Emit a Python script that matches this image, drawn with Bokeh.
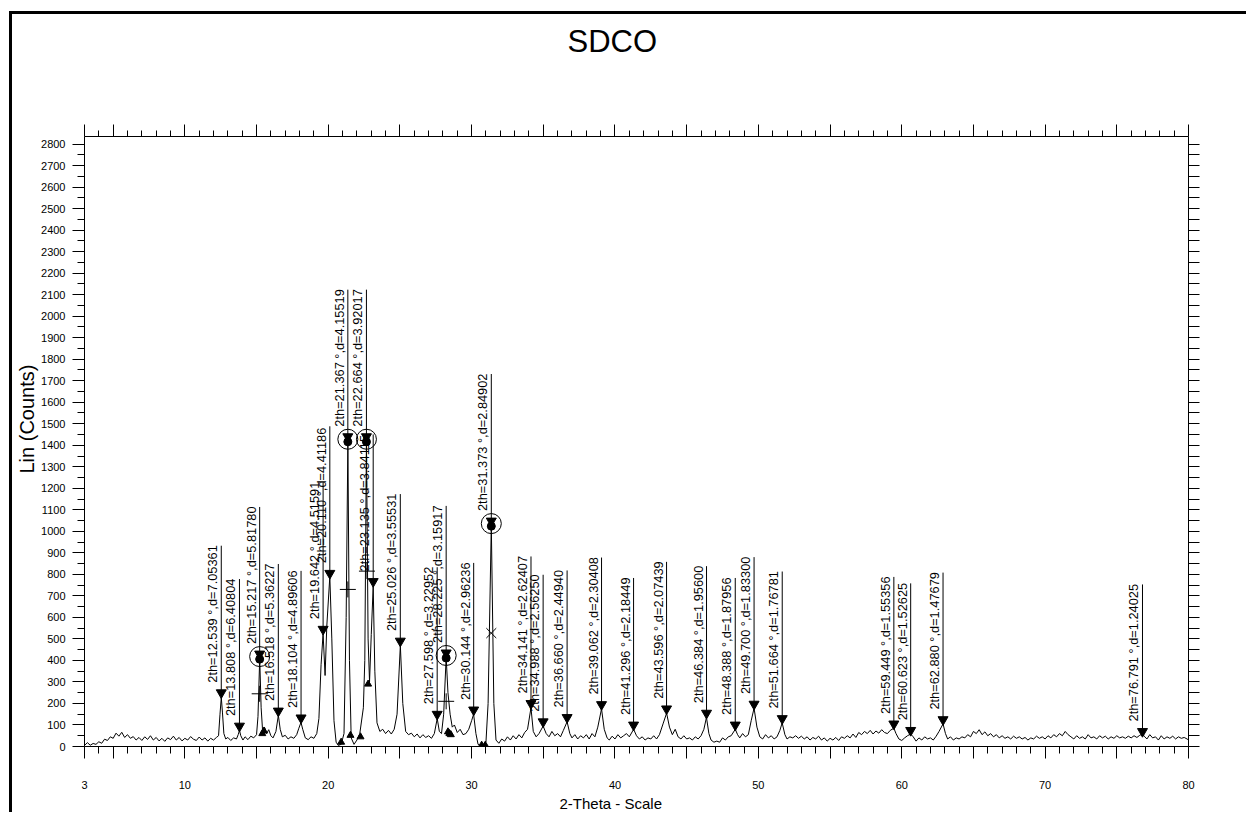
import math
from bokeh.plotting import figure
from bokeh.models import (Range1d, LinearAxis, FixedTicker, Title, ColumnDataSource)
from bokeh.core.properties import value
from bokeh.embed import file_html
from bokeh.resources import INLINE

FONT = "Liberation Sans"

# ---------------- data ----------------
scan = [
    (3.0, 5), (3.2, 18), (3.4, 6), (3.6, 14), (3.8, 10), (4.0, 22), (4.2, 15), (4.4, 34),
    (4.6, 28), (4.8, 45), (5.0, 38), (5.2, 62), (5.4, 48), (5.6, 66), (5.8, 42), (6.0, 55),
    (6.2, 38), (6.4, 46), (6.6, 30), (6.8, 42), (7.0, 28), (7.2, 45), (7.4, 33), (7.6, 50),
    (7.8, 30), (8.0, 42), (8.2, 26), (8.4, 38), (8.6, 24), (8.8, 40), (9.0, 32), (9.2, 48),
    (9.4, 30), (9.6, 42), (9.8, 26), (10.0, 38), (10.2, 30), (10.4, 46), (10.6, 34), (10.8, 28),
    (11.0, 44), (11.2, 30), (11.4, 40), (11.6, 25), (11.8, 38), (12.0, 30), (12.2, 42), (12.35, 50),
    (12.45, 150), (12.54, 228), (12.62, 160), (12.72, 60), (12.85, 35), (13.0, 42), (13.2, 28),
    (13.4, 40), (13.6, 35), (13.72, 55), (13.81, 75), (13.9, 50), (14.05, 30), (14.2, 45),
    (14.4, 32), (14.6, 48), (14.8, 40), (15.0, 55), (15.1, 140), (15.22, 410), (15.32, 180),
    (15.42, 75), (15.55, 90), (15.7, 60), (15.85, 78), (16.0, 50), (16.15, 40), (16.35, 70),
    (16.52, 145), (16.65, 80), (16.8, 45), (17.0, 52), (17.2, 35), (17.4, 45), (17.6, 38),
    (17.8, 55), (17.95, 85), (18.1, 112), (18.22, 80), (18.4, 40), (18.6, 32), (18.8, 45),
    (19.0, 38), (19.2, 60), (19.35, 130), (19.5, 380), (19.64, 525), (19.78, 330), (19.9, 560),
    (20.11, 790), (20.25, 500), (20.4, 120), (20.55, 20), (20.7, 5), (20.9, 10), (21.1, 60),
    (21.25, 600), (21.37, 1420), (21.48, 400), (21.6, 40), (21.8, 10), (22.0, 30), (22.2, 60),
    (22.45, 180), (22.55, 400), (22.664, 1420), (22.78, 500), (22.88, 300), (23.0, 520),
    (23.135, 745), (23.25, 350), (23.4, 110), (23.6, 70), (23.8, 80), (24.0, 60), (24.2, 75),
    (24.4, 58), (24.6, 80), (24.8, 150), (25.03, 470), (25.2, 200), (25.4, 70), (25.6, 55),
    (25.8, 62), (26.0, 45), (26.2, 58), (26.4, 40), (26.6, 55), (26.8, 42), (27.0, 50),
    (27.2, 38), (27.4, 60), (27.6, 130), (27.75, 70), (27.9, 60), (28.05, 150), (28.225, 415),
    (28.35, 250), (28.5, 150), (28.65, 90), (28.8, 100), (29.0, 65), (29.2, 80), (29.4, 55),
    (29.6, 60), (29.8, 80), (30.0, 120), (30.14, 150), (30.3, 60), (30.45, 10), (30.6, 5),
    (30.8, 8), (31.0, 20), (31.15, 200), (31.373, 1030), (31.55, 200), (31.7, 30), (31.9, 15),
    (32.1, 35), (32.3, 25), (32.5, 45), (32.7, 30), (32.9, 50), (33.1, 35), (33.3, 55),
    (33.5, 40), (33.7, 65), (33.9, 80), (34.14, 180), (34.3, 70), (34.5, 45), (34.7, 60),
    (34.99, 95), (35.2, 60), (35.4, 45), (35.6, 70), (35.8, 50), (36.0, 60), (36.2, 45),
    (36.4, 75), (36.66, 115), (36.85, 60), (37.0, 40), (37.2, 55), (37.4, 35), (37.6, 50),
    (37.8, 40), (38.0, 55), (38.2, 35), (38.4, 60), (38.6, 45), (38.8, 90), (39.06, 175),
    (39.25, 80), (39.45, 40), (39.6, 30), (39.8, 48), (40.0, 35), (40.2, 55), (40.4, 40),
    (40.6, 50), (40.8, 60), (41.0, 45), (41.3, 80), (41.5, 50), (41.7, 35), (41.9, 45),
    (42.1, 30), (42.3, 40), (42.5, 35), (42.7, 50), (42.9, 35), (43.1, 55), (43.35, 105),
    (43.6, 155), (43.8, 90), (44.0, 55), (44.2, 80), (44.4, 45), (44.6, 35), (44.8, 50),
    (45.0, 35), (45.2, 40), (45.4, 30), (45.6, 45), (45.8, 35), (46.0, 50), (46.2, 80),
    (46.38, 135), (46.55, 60), (46.7, 30), (46.9, 20), (47.1, 25), (47.3, 20), (47.5, 40),
    (47.7, 30), (47.9, 45), (48.1, 50), (48.39, 80), (48.55, 55), (48.7, 40), (48.9, 60),
    (49.1, 45), (49.3, 55), (49.5, 120), (49.7, 178), (49.9, 90), (50.1, 45), (50.3, 35),
    (50.5, 55), (50.7, 40), (50.9, 50), (51.1, 35), (51.3, 45), (51.5, 75), (51.66, 110),
    (51.85, 55), (52.0, 35), (52.2, 45), (52.4, 40), (52.6, 50), (52.8, 38), (53.0, 48),
    (53.2, 35), (53.4, 45), (53.6, 30), (53.8, 42), (54.0, 35), (54.2, 48), (54.4, 30),
    (54.6, 40), (54.8, 25), (55.0, 38), (55.2, 30), (55.4, 42), (55.6, 28), (55.8, 45),
    (56.0, 38), (56.2, 50), (56.4, 40), (56.6, 58), (56.8, 42), (57.0, 65), (57.2, 55),
    (57.4, 70), (57.6, 60), (57.8, 75), (58.0, 58), (58.2, 72), (58.4, 62), (58.6, 78),
    (58.8, 65), (59.0, 60), (59.2, 75), (59.45, 85), (59.6, 60), (59.8, 35), (60.0, 28),
    (60.2, 40), (60.4, 50), (60.62, 58), (60.8, 45), (61.0, 25), (61.2, 40), (61.4, 30),
    (61.6, 45), (61.8, 35), (62.0, 40), (62.2, 30), (62.4, 48), (62.6, 70), (62.88, 105),
    (63.05, 60), (63.2, 35), (63.4, 45), (63.6, 30), (63.8, 40), (64.0, 35), (64.2, 45),
    (64.4, 40), (64.6, 55), (64.8, 45), (65.0, 70), (65.2, 60), (65.4, 78), (65.6, 55),
    (65.8, 68), (66.0, 50), (66.2, 60), (66.4, 45), (66.6, 55), (66.8, 40), (67.0, 50),
    (67.2, 38), (67.4, 45), (67.6, 35), (67.8, 48), (68.0, 38), (68.2, 45), (68.4, 35),
    (68.6, 42), (68.8, 30), (69.0, 40), (69.2, 35), (69.4, 48), (69.6, 38), (69.8, 45),
    (70.0, 35), (70.2, 50), (70.4, 40), (70.6, 55), (70.8, 45), (71.0, 60), (71.2, 50),
    (71.4, 70), (71.6, 55), (71.8, 45), (72.0, 35), (72.2, 50), (72.4, 38), (72.6, 45),
    (72.8, 35), (73.0, 55), (73.2, 40), (73.4, 45), (73.6, 35), (73.8, 50), (74.0, 40),
    (74.2, 48), (74.4, 35), (74.6, 45), (74.8, 38), (75.0, 50), (75.2, 40), (75.4, 45),
    (75.6, 38), (75.8, 48), (76.0, 40), (76.2, 50), (76.4, 42), (76.6, 52), (76.79, 58),
    (76.95, 45), (77.1, 35), (77.3, 55), (77.5, 40), (77.7, 45), (77.9, 30), (78.1, 50),
    (78.3, 35), (78.5, 45), (78.7, 38), (78.9, 48), (79.1, 35), (79.3, 45), (79.5, 38),
    (79.7, 42), (79.9, 35), (80.0, 30),
]
scan_2theta = [s[0] for s in scan]
scan_counts = [s[1] for s in scan]

peak_2theta = [12.539, 13.808, 15.217, 16.518, 18.104, 19.642, 20.110, 21.367, 22.664,
               23.135, 25.026, 27.598, 28.225, 30.144, 31.373, 34.141, 34.988, 36.660,
               39.062, 41.296, 43.596, 46.384, 48.388, 49.700, 51.664, 59.449, 60.623,
               62.880, 76.791]
peak_d = [7.05361, 6.40804, 5.81780, 5.36227, 4.89606, 4.51591, 4.41186, 4.15519, 3.92017,
          3.84115, 3.55531, 3.22952, 3.15917, 2.96236, 2.84902, 2.62407, 2.56250, 2.44940,
          2.30408, 2.18449, 2.07439, 1.95600, 1.87956, 1.83300, 1.76781, 1.55356, 1.52625,
          1.47679, 1.24025]
peak_mark = [250, 95, 430, 165, 133, 545, 805, 1440, 1440, 767, 490, 150, 435, 170, 1048,
             200, 115, 135, 195, 100, 175, 155, 100, 197, 130, 105, 75, 125, 70]

ring_2theta = [15.217, 21.367, 22.664, 28.225, 31.373]
ring_counts = [418, 1428, 1428, 423, 1036]
plus_2theta = [15.217, 21.367, 22.700, 28.225]
plus_counts = [245, 730, 815, 210]
cross_2theta = [31.373]
cross_counts = [527]
small_2theta = [15.40, 15.52, 20.90, 21.55, 22.25, 22.78, 28.35, 28.45, 28.55, 30.70, 30.95]
small_counts = [60, 72, 20, 52, 45, 290, 68, 60, 55, 6, 6]

y_ticks = list(range(0, 2900, 100))
x_major = [3, 10, 20, 30, 40, 50, 60, 70, 80]
x_five = [5, 15, 25, 35, 45, 55, 65, 75]

X0, X1 = 3, 80
Y0, Y1 = 0, 2835
FRAME_H = 610

# ---------------- figure ----------------
p = figure(width=1237, height=801, output_backend="svg", toolbar_location=None,
           x_range=Range1d(X0, X1), y_range=Range1d(Y0, Y1),
           x_axis_location=None, y_axis_location=None,
           min_border_left=71, min_border_right=61, min_border_top=122, min_border_bottom=69)
p.margin = (14, 0, 0, 12)
p.styles = {"box-shadow": "-3px -3px 0px 0px black"}
p.grid.visible = False
p.outline_line_color = None
p.background_fill_color = "white"
p.border_fill_color = "white"

minor_x = [v for v in range(4, 80) if v not in x_major and v not in x_five]

def style_axis(ax, maj, mnr):
    ax.axis_line_color = "black"
    ax.axis_line_width = 1
    ax.major_tick_line_color = "black"
    ax.minor_tick_line_color = "black"
    ax.major_tick_in = 0
    ax.minor_tick_in = 0
    ax.major_tick_out = maj
    ax.minor_tick_out = mnr
    ax.major_label_text_font = FONT
    ax.major_label_text_font_size = "11px"
    ax.major_label_text_color = "black"

bottom = LinearAxis(ticker=FixedTicker(ticks=x_major + x_five, minor_ticks=minor_x),
                    major_label_overrides={v: "" for v in x_five})
style_axis(bottom, 12, 7)
bottom.major_label_standoff = 22
p.add_layout(bottom, "below")

top = LinearAxis(ticker=FixedTicker(ticks=x_major + x_five, minor_ticks=minor_x),
                 major_label_overrides={v: "" for v in x_major + x_five})
style_axis(top, 12, 6)
top.major_label_standoff = 0
p.add_layout(top, "above")

# blank spacer axis between the top axis and the title (tick and line hidden)
spacer = LinearAxis(ticker=FixedTicker(ticks=[40], minor_ticks=[]), axis_line_color=None,
                    major_tick_line_color=None, minor_tick_line_color=None,
                    major_tick_out=66, major_tick_in=0, minor_tick_out=0, minor_tick_in=0,
                    major_label_standoff=0, major_label_overrides={40: ""},
                    major_label_text_font_size="11px")
p.add_layout(spacer, "above")

left = LinearAxis(ticker=FixedTicker(ticks=y_ticks, minor_ticks=[v + 50 for v in y_ticks[:-1]]))
style_axis(left, 12, 7)
left.major_label_standoff = 7
p.add_layout(left, "left")

right = LinearAxis(ticker=FixedTicker(ticks=y_ticks, minor_ticks=[v + 50 for v in y_ticks[:-1]]),
                   major_label_overrides={v: "" for v in y_ticks})
style_axis(right, 11, 11)
right.major_label_standoff = 0
p.add_layout(right, "right")

# scan curve
p.line(scan_2theta, scan_counts, line_color="black", line_width=1)

# peak markers + labels
ppc = FRAME_H / (Y1 - Y0)
labels = [f"2th={t:.3f} \u00b0,d={d:.5f}" for t, d in zip(peak_2theta, peak_d)]
src = ColumnDataSource(dict(x=peak_2theta, y=peak_mark, text=labels,
                            ytop=[h + 147 / ppc for h in peak_mark]))
p.segment(x0="x", y0="y", x1="x", y1="ytop", source=src, line_color="black", line_width=1)
p.scatter("x", "y", source=src, marker="inverted_triangle", size=10,
          fill_color="black", line_color="black")
p.text(x="x", y="y", text="text", source=src, angle=math.pi / 2,
       text_font=value(FONT), text_font_size=value("12.8px"), text_color="black",
       text_align="left", text_baseline="bottom", x_offset=-1, y_offset=-10)

# phase symbols
p.scatter(ring_2theta, ring_counts, marker="circle", size=20, fill_color=None,
          line_color="black", line_width=1)
p.scatter(ring_2theta, [c - 12 for c in ring_counts], marker="circle", size=8,
          fill_color="black", line_color="black")
p.scatter(plus_2theta, plus_counts, marker="cross", size=16, line_color="black", line_width=1)
p.scatter(cross_2theta, cross_counts, marker="x", size=14, line_color="black", line_width=1)
p.scatter(small_2theta, small_counts, marker="triangle", size=7, fill_color="black",
          line_color="black")

# titles
t_main = Title(text="SDCO", align="left", offset=483, standoff=0,
               text_font=FONT, text_font_size="31px", text_font_style="normal",
               text_color="black")
p.add_layout(t_main, "above")
t_x = Title(text="2-Theta - Scale", align="left", offset=475, standoff=2,
            text_font=FONT, text_font_size="15px", text_font_style="normal",
            text_color="black")
p.add_layout(t_x, "below")
t_y = Title(text="Lin (Counts)", align="left", offset=273, standoff=2,
            text_font=FONT, text_font_size="20px", text_font_style="normal",
            text_color="black")
p.add_layout(t_y, "left")

open("out.html", "w").write(file_html(p, INLINE))
